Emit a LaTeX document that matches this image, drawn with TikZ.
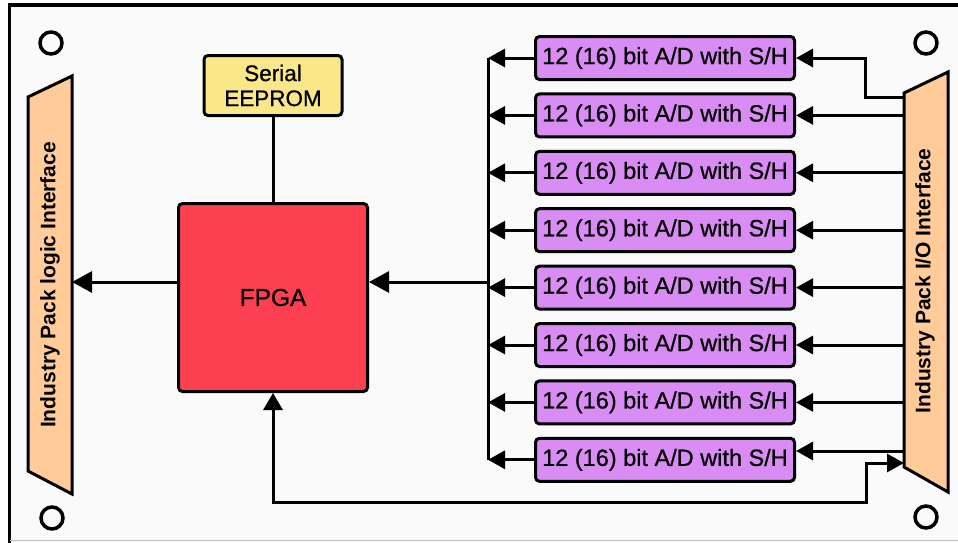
\documentclass[tikz,border=0pt]{standalone}
\usepackage{fontspec}
\setmainfont{Liberation Sans}
\newfontfamily\medfont[RawFeature={embolden=0.7}]{Liberation Sans}
\usetikzlibrary{arrows.meta,calc}
\definecolor{bg}{RGB}{250,250,250}
\definecolor{peach}{RGB}{255,204,153}
\definecolor{eeyel}{RGB}{249,231,138}
\definecolor{fpgared}{RGB}{252,64,80}
\definecolor{adpurple}{RGB}{218,140,245}
\begin{document}
\begin{tikzpicture}[x=1pt,y=-1pt,
  box/.style={draw=black, line width=3pt, rounded corners=4pt, inner sep=0pt, align=center},
  arr/.style={line width=3pt, -{Triangle[length=17pt,width=18pt]}},
  bigarr/.style={line width=3pt, -{Triangle[length=20pt,width=21pt]}},
  hole/.style={draw=black, line width=3.5pt, circle, minimum size=22pt, inner sep=0pt},
  trap/.style={draw=black, line width=3pt, fill=peach, line join=miter},
  vlabel/.style={rotate=90, font=\bfseries\fontsize{21}{24}\selectfont, inner sep=0pt},
  adtext/.style={font=\medfont\fontsize{23.5}{26}\selectfont}]
\useasboundingbox (0,0) rectangle (958,542);
\clip (0,0) rectangle (958,542);
\fill[white] (0,0) rectangle (958,542);
\draw[line width=3.5pt, fill=bg] (9.5,5) rectangle (990,570);
\draw[black!25, line width=1pt] (9.5,540.5) -- (958,540.5);
% mounting holes
\node[hole] (h1) at (51,43) {};
\node[hole] (h2) at (926,43) {};
\node[hole] (h3) at (52,518) {};
\node[hole] (h4) at (926,517) {};
% interfaces
\draw[trap] (28,97) -- (72,76) -- (72,494) -- (28,471) -- cycle;
\node[vlabel] (lif) at (50,285) {Industry Pack logic Interface};
\draw[trap] (904,93) -- (948,72) -- (948,492) -- (904,467) -- cycle;
\node[vlabel] (rif) at (925,281) {Industry Pack I/O Interface};
\coordinate (lin) at (72,282);
\coordinate (busf) at (488,282);
\coordinate (r1) at (904,97);
\coordinate (r8) at (904,451);
\coordinate (rb) at (904,463);
\coordinate (bt) at (488,58);
\coordinate (bb) at (488,460);
% blocks
\node[box, fill=eeyel, minimum width=138pt, minimum height=60pt, font=\medfont\fontsize{22.5}{25}\selectfont] (eep) at (273,85.5) {Serial\\EEPROM};
\node[box, fill=fpgared, minimum width=189pt, minimum height=188pt, font=\medfont\fontsize{24.5}{27}\selectfont] (fpga) at (273,297.5) {FPGA};
\foreach \i in {1,...,8}
  \node[box, fill=adpurple, minimum width=259pt, minimum height=43pt, adtext] (ad\i) at (665,{58+57.4*(\i-1)}) {12 (16) bit A/D with S/H};
% connectors
\draw[line width=3pt] (bt) -- (bb);
\foreach \i in {1,...,8}
  \draw[arr] (ad\i.west) -- (ad\i.west -| bt);
\draw[bigarr] (busf) -- (fpga.east |- busf);
\draw[bigarr] (fpga.west |- lin) -- (lin);
\draw[line width=3pt] (eep.south) -- (fpga.north);
\draw[arr] (r1) -| ($(ad1.east)+(69,0)$) -- (ad1.east);
\foreach \i in {2,...,7}
  \draw[arr] (ad\i.east -| r1) -- (ad\i.east);
\draw[arr] (r8) -- (ad8.east |- r8);
\draw[line width=3pt, {Triangle[length=17pt,width=19pt]}-{Triangle[length=17pt,width=18pt]}] (fpga.south) |- (866,502) |- (rb);
\end{tikzpicture}
\end{document}
